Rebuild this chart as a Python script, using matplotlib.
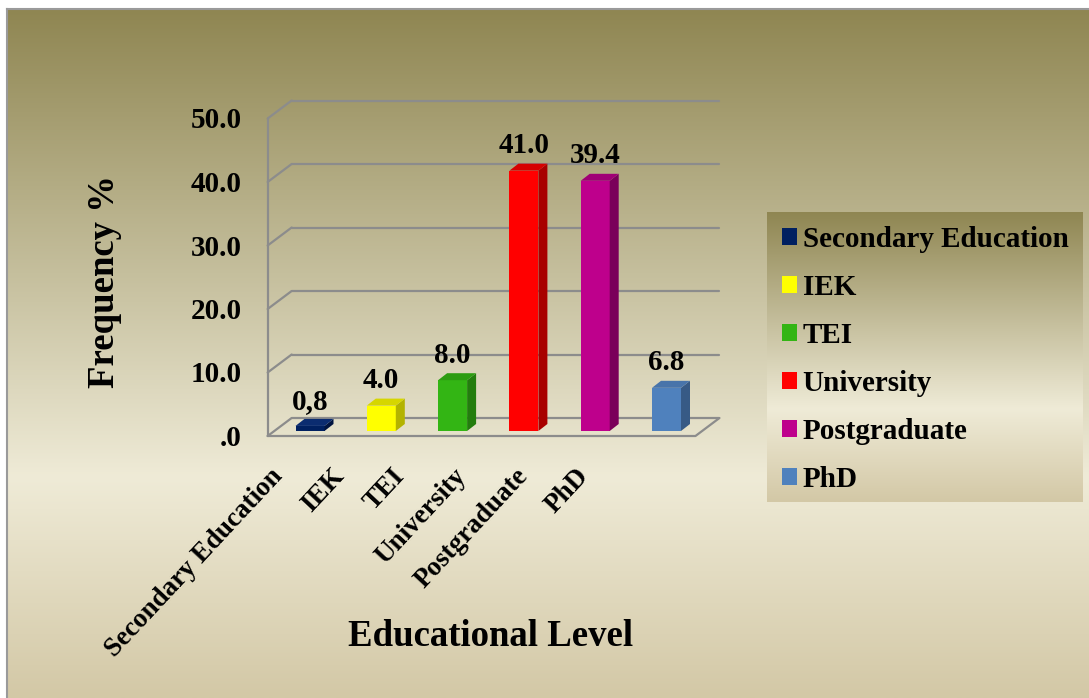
import numpy as np
import matplotlib.pyplot as plt
from matplotlib.patches import Polygon, Rectangle, Patch
from matplotlib.colors import LinearSegmentedColormap

# education level frequencies (%)
levels = ['Secondary Education', 'IEK', 'TEI', 'University', 'Postgraduate', 'PhD']
freq = [0.8, 4.0, 8.0, 41.0, 39.4, 6.8]
freq_text = ['0,8', '4.0', '8.0', '41.0', '39.4', '6.8']
y_ticks = [0, 10, 20, 30, 40, 50]
y_tick_text = ['.0', '10.0', '20.0', '30.0', '40.0', '50.0']

face_col = ['#002060', '#FFFF00', '#33B514', '#FF0000', '#BE008C', '#4F81BD']
side_col = ['#001440', '#B3B300', '#237D0E', '#A80000', '#7A005A', '#375A85']
top_col = ['#0B2C70', '#D6D600', '#2C9C11', '#D60000', '#A00076', '#4874AA']

plt.rcParams['font.family'] = 'Liberation Serif'
plt.rcParams['font.weight'] = 'bold'

W, H = 1089, 698
fig = plt.figure(figsize=(W / 100, H / 100), dpi=100)

# olive -> cream -> tan fill
grad = LinearSegmentedColormap.from_list(
    'olive', [(0.0, '#8F8652'), (0.68, '#EFEBD7'), (1.0, '#D3C8A6')])

bg = fig.add_axes([7 / W, 0, 1 - 7 / W, 1 - 9 / H])
bg.imshow(np.linspace(0, 1, 256).reshape(-1, 1), aspect='auto', cmap=grad,
          extent=[0, 1, 1, 0])
bg.set_xticks([])
bg.set_yticks([])
for s in bg.spines.values():
    s.set_color('#9A9A9A')
    s.set_linewidth(1.5)
bg.spines['right'].set_visible(False)
bg.spines['bottom'].set_visible(False)

# plot area: x = category index, y = percent
sx, sy = 71.3, 6.35          # pixels per unit
x0, y0 = 310, 431            # pixel of (0, 0)
xa, xb, ya, yb = -0.9, 5.9, -1.5, 53
ax = fig.add_axes([(x0 + xa * sx) / W, 1 - (y0 - ya * sy) / H,
                   (xb - xa) * sx / W, (yb - ya) * sy / H])
ax.set_xlim(xa, xb)
ax.set_ylim(ya, yb)
ax.axis('off')

# depth offsets of the front / back planes and of the bars
fx, fy = -6.7 / sx, -5 / sy
bx, by = 17.3 / sx, 13 / sy
dx, dy = 9 / sx, 7 / sy
hw = 14.5 / sx
left, right = -0.5, len(levels) - 0.5

grid_kw = dict(color='#8C8C8C', lw=1.6, solid_capstyle='round', zorder=1)
for v in y_ticks:
    ax.plot([left + bx, right + bx], [v + by, v + by], **grid_kw)
    ax.plot([left + fx, left + bx], [v + fy, v + by], **grid_kw)
ax.plot([left + fx, left + fx], [fy, y_ticks[-1] + fy], **grid_kw)
ax.plot([left + fx, right + fx, right + bx], [fy, fy, by], **grid_kw)

for i, v in enumerate(freq):
    ax.add_patch(Rectangle((i - hw, 0), 2 * hw, v, fc=face_col[i], ec='none', zorder=3))
    ax.add_patch(Polygon([(i + hw, 0), (i + hw + dx, dy), (i + hw + dx, v + dy), (i + hw, v)],
                         fc=side_col[i], ec='none', zorder=3))
    ax.add_patch(Polygon([(i - hw, v), (i + hw, v), (i + hw + dx, v + dy), (i - hw + dx, v + dy)],
                         fc=top_col[i], ec='none', zorder=3))
    ax.annotate(freq_text[i], (i, v), xytext=(0, 12.5), textcoords='offset points',
                ha='center', va='baseline', fontsize=21, zorder=4)

for v, t in zip(y_ticks, y_tick_text):
    ax.text(left + fx - 26 / sx, v + fy - 10 / sy, t, ha='right', va='baseline', fontsize=21)

for i, name in enumerate(levels):
    ax.text(-0.57 + 0.86 * i, -5.2, name, rotation=47, rotation_mode='anchor',
            ha='right', va='top', fontsize=19.5)

fig.text(104 / W, 1 - 281 / H, 'Frequency %', rotation=90, ha='center', va='center',
         fontsize=26.5)
fig.text(491 / W, 1 - 637 / H, 'Educational Level', ha='center', va='center', fontsize=26.5)

# legend box
lg = fig.add_axes([767 / W, 1 - 502 / H, (1083 - 767) / W, (502 - 212) / H])
lg.imshow(np.linspace(0, 1, 256).reshape(-1, 1), aspect='auto', cmap=grad,
          extent=[0, 1, 1, 0])
lg.axis('off')
handles = [Patch(fc=c, ec='none') for c in face_col]
fig.legend(handles, levels, loc='upper left', bbox_to_anchor=(782 / W, 1 - 226 / H),
           frameon=False, fontsize=21, handlelength=0.51, handleheight=0.51,
           handletextpad=0.2, labelspacing=0.72, borderpad=0, borderaxespad=0)

fig.savefig('out.png', dpi=100)
